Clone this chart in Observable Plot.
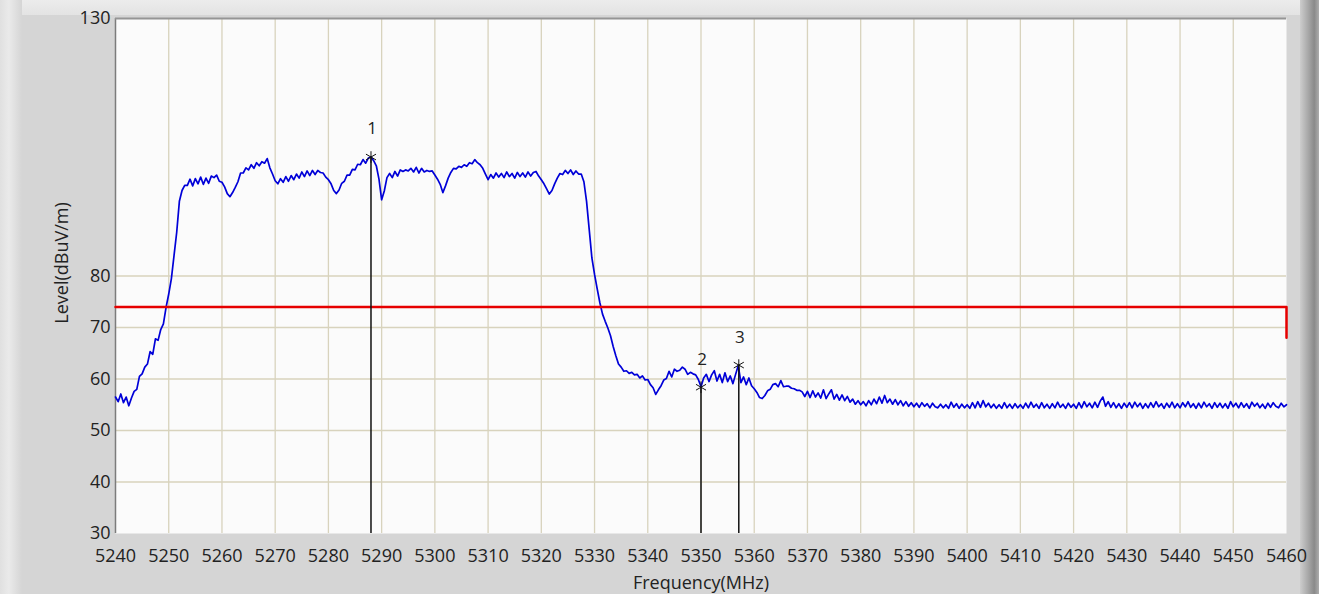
<!DOCTYPE html>
<html>
<head>
<meta charset="utf-8">
<script src="https://cdn.jsdelivr.net/npm/d3@7"></script>
<script src="https://cdn.jsdelivr.net/npm/@observablehq/plot@0.6"></script>
<style>
  html, body { margin: 0; padding: 0; }
  body { width: 1319px; height: 594px; overflow: hidden; background: #d5d5d5; position: relative; }
  #topStrip { position: absolute; left: 0; top: 0; width: 1319px; height: 15px; background: linear-gradient(#ececec, #e3e3e3); }
  #leftStrip { position: absolute; left: 0; top: 0; width: 22px; height: 594px; background: linear-gradient(90deg, #e0e0e0, #eaeaea 40%, #d5d5d5); }
  #rightBar { position: absolute; left: 1300px; top: 0; width: 19px; height: 594px; background: linear-gradient(90deg, #cdcdcd, #a6a6a6 45%, #8a8a8a 75%, #adadad); }
  #chart { position: absolute; left: 0; top: 0; }
  #chart svg g[aria-label="x-axis tick label"] text,
  #chart svg g[aria-label="y-axis tick label"] text { font-size: 18px; }
  #chart svg .ttl text { font-size: 18px; }
  #chart svg .mlab text { font-size: 17px; }
</style>
</head>
<body>
<div id="topStrip"></div>
<div id="leftStrip"></div>
<div id="rightBar"></div>
<div id="chart"></div>
<script>
// Trace: levels (dBuV/m) from 5240 MHz in 0.5 MHz steps
const traceStart = 5240;
const traceStep = 0.5;
const traceLevel = [
  // 5240
  56.5, 55.6, 57.1, 55.4, 56.5, 54.8, 56.3, 57.6, 58.0, 60.5, 61.0, 62.3, 62.9, 65.3, 64.8, 67.8, 67.5, 69.6, 70.7, 73.9,
  // 5250
  76.5, 79.5, 84.0, 88.5, 94.5, 96.6, 97.6, 97.6, 98.8, 97.5, 98.9, 97.9, 99.2, 97.8, 99.0, 98.0, 99.4, 99.1, 99.6, 98.4,
  // 5260
  98.2, 97.3, 96.0, 95.4, 96.2, 97.2, 98.3, 100.0, 100.0, 101.0, 100.6, 101.6, 100.9, 102.0, 101.4, 102.2, 101.9, 102.8, 101.0, 99.8,
  // 5270
  98.5, 97.9, 98.9, 98.2, 99.3, 98.4, 99.5, 98.7, 99.8, 99.0, 100.2, 99.3, 100.4, 99.5, 100.5, 99.7, 100.5, 100.1, 100.0, 99.2,
  // 5280
  98.7, 97.9, 96.6, 96.0, 96.7, 98.0, 98.4, 99.6, 99.6, 100.7, 100.6, 101.7, 101.6, 102.6, 101.9, 102.9, 103.1, 102.4, 101.4, 98.8,
  // 5290
  94.8, 96.5, 99.1, 99.9, 99.1, 100.3, 99.4, 100.6, 100.3, 100.6, 100.4, 100.9, 100.2, 101.1, 100.0, 100.9, 100.2, 100.5, 100.3, 100.4,
  // 5300
  99.6, 98.8, 97.8, 96.2, 97.5, 99.0, 100.1, 100.9, 100.8, 101.3, 101.1, 101.6, 101.3, 102.0, 101.8, 102.6, 102.0, 101.6, 100.9, 99.8,
  // 5310
  98.7, 99.7, 99.0, 100.0, 99.2, 99.9, 99.1, 100.2, 99.3, 99.9, 99.0, 100.1, 99.3, 100.0, 99.2, 100.2, 99.4, 100.1, 100.3, 99.4,
  // 5320
  98.7, 97.9, 96.9, 95.9, 96.6, 97.9, 99.0, 99.9, 99.7, 100.5, 99.9, 100.6, 99.7, 100.4, 99.8, 99.8, 98.3, 94.5, 89.0, 83.5,
  // 5330
  80.3, 77.5, 74.8, 72.6, 71.2, 69.9, 68.4, 66.3, 64.5, 62.9, 62.3, 61.5, 61.6, 61.1, 61.3, 60.8, 60.9, 60.2, 60.6, 59.8,
  // 5340
  59.9, 58.9, 58.3, 57.0, 57.9, 58.7, 59.8, 60.1, 61.5, 60.4, 61.9, 61.5, 61.7, 62.3, 61.9, 60.9, 61.3, 61.0, 60.8, 59.9,
  // 5350
  58.5, 60.2, 60.9, 59.5, 60.8, 61.6, 59.6, 60.9, 59.3, 61.2, 59.5, 60.6, 59.1, 60.9, 62.6, 59.3, 60.4, 58.9, 60.2, 58.7,
  // 5360
  58.1, 57.4, 56.4, 56.2, 56.8, 57.7, 58.0, 58.9, 59.1, 58.5, 59.7, 58.5, 58.6, 58.6, 58.2, 58.1, 57.8, 57.8, 57.5, 56.6,
  // 5370
  57.6, 56.4, 57.7, 56.5, 57.3, 56.3, 57.9, 56.2, 57.1, 57.9, 56.1, 57.0, 55.9, 56.9, 55.8, 56.6, 55.5, 56.1, 55.1, 55.8,
  // 5380
  55.0, 55.6, 54.8, 55.8, 55.0, 56.1, 55.2, 56.5, 55.3, 56.8, 55.4, 56.1, 55.1, 56.0, 55.0, 55.8, 54.8, 55.6, 54.7, 55.4,
  // 5390
  54.6, 55.3, 54.5, 55.4, 54.7, 55.2, 54.4, 55.3, 54.6, 54.4, 55.1, 54.4, 55.0, 54.3, 55.5, 54.5, 55.2, 54.3, 55.1, 54.4,
  // 5400
  55.0, 54.3, 55.4, 54.4, 55.6, 54.5, 55.8, 54.6, 55.3, 54.4, 55.1, 54.3, 55.0, 54.3, 55.4, 54.4, 55.1, 54.3, 55.2, 54.4,
  // 5410
  55.0, 54.3, 55.3, 54.4, 55.5, 54.5, 55.1, 54.3, 55.4, 54.4, 55.1, 54.3, 55.2, 54.4, 55.5, 54.5, 55.1, 54.3, 55.3, 54.5,
  // 5420
  55.1, 54.3, 55.4, 54.4, 55.6, 54.6, 55.3, 54.4, 55.5, 54.5, 55.7, 56.5, 54.7, 55.6, 54.5, 55.4, 54.4, 55.2, 54.3, 55.3,
  // 5430
  54.5, 55.4, 54.4, 55.5, 54.6, 55.3, 54.3, 55.2, 54.4, 55.4, 54.5, 55.6, 54.6, 55.2, 54.3, 55.3, 54.5, 55.5, 54.4, 55.2,
  // 5440
  54.4, 55.4, 54.6, 55.6, 54.5, 55.2, 54.3, 55.3, 54.4, 55.5, 54.6, 55.2, 54.3, 55.4, 54.5, 55.3, 54.4, 55.2, 54.3, 55.6,
  // 5450
  54.6, 55.3, 54.4, 55.4, 54.5, 55.2, 54.3, 55.5, 54.7, 55.3, 54.4, 55.1, 54.3, 55.3, 54.5, 55.4, 54.7, 54.4, 55.3, 54.6,
  // 5460
  55.0
];

// Limit line
const limitFreq = [5240, 5460, 5460];
const limitLevel = [74, 74, 68];

// Markers
const markerLabel = ["1", "2", "3"];
const markerFreq = [5288.0, 5350.0, 5357.1];
const markerLevel = [103.1, 58.4, 62.7];

// Axes
const xTicks = [5240, 5250, 5260, 5270, 5280, 5290, 5300, 5310, 5320, 5330, 5340, 5350, 5360, 5370, 5380, 5390, 5400, 5410, 5420, 5430, 5440, 5450, 5460];
const xGrid = [5250, 5260, 5270, 5280, 5290, 5300, 5310, 5320, 5330, 5340, 5350, 5360, 5370, 5380, 5390, 5400, 5410, 5420, 5430, 5440, 5450];
const yTicks = [30, 40, 50, 60, 70, 80, 130];
const yGrid = [40, 50, 60, 70, 80];
const xTitle = "Frequency(MHz)";
const yTitle = "Level(dBuV/m)";

const trace = traceLevel.map((v, i) => ({ f: traceStart + i * traceStep, v }));
const limit = limitFreq.map((f, i) => ({ f, v: limitLevel[i] }));
const markers = markerLabel.map((label, i) => ({ label, f: markerFreq[i], v: markerLevel[i] }));

const font = "'Segoe UI', 'Open Sans', 'Noto Sans', sans-serif";

const chart = Plot.plot({
  width: 1319,
  height: 594,
  marginLeft: 115,
  marginRight: 33,
  marginTop: 18,
  marginBottom: 61,
  style: { background: "transparent", fontFamily: font, fontSize: "17px", color: "#222", overflow: "visible" },
  x: { domain: [5240, 5460] },
  y: { domain: [30, 130] },
  marks: [
    Plot.frame({ fill: "#fbfbfb", stroke: null }),
    Plot.gridX({ ticks: xGrid, stroke: "#d8d3bd", strokeOpacity: 1, strokeWidth: 1.3 }),
    Plot.gridY({ ticks: yGrid, stroke: "#d8d3bd", strokeOpacity: 1, strokeWidth: 1.3 }),
    Plot.ruleX([5240], { stroke: "#7c7c7c", strokeWidth: 1.5 }),
    Plot.ruleY([130], { stroke: "#959595", strokeWidth: 2 }),
    Plot.axisX({ ticks: xTicks, tickSize: 0, tickPadding: 16, label: null, tickFormat: d => String(d), fill: "#222" }),
    Plot.axisY({ ticks: yTicks, tickSize: 0, tickPadding: 5, label: null, tickFormat: d => String(d), fill: "#222" }),
    Plot.line(trace, { x: "f", y: "v", stroke: "#0000d8", strokeWidth: 1.7 }),
    Plot.line(limit, { x: "f", y: "v", stroke: "#e60000", strokeWidth: 2.5 }),
    Plot.ruleX(markers, { x: "f", y1: "v", y2: 30, stroke: "#111", strokeWidth: 1.5 }),
    Plot.dot(markers, { x: "f", y: "v", symbol: "asterisk", r: 5.5, stroke: "#111", strokeWidth: 1 }),
    Plot.text(markers, { x: "f", y: "v", text: "label", dy: -28, dx: 1, fill: "#222", className: "mlab" }),
    Plot.text([xTitle], { frameAnchor: "bottom", dy: 55, fill: "#222", className: "ttl" }),
    Plot.text([yTitle], { frameAnchor: "left", textAnchor: "middle", rotate: -90, dx: -53, dy: -13, fill: "#222", className: "ttl" })
  ]
});
document.getElementById("chart").appendChild(chart);
</script>
</body>
</html>
